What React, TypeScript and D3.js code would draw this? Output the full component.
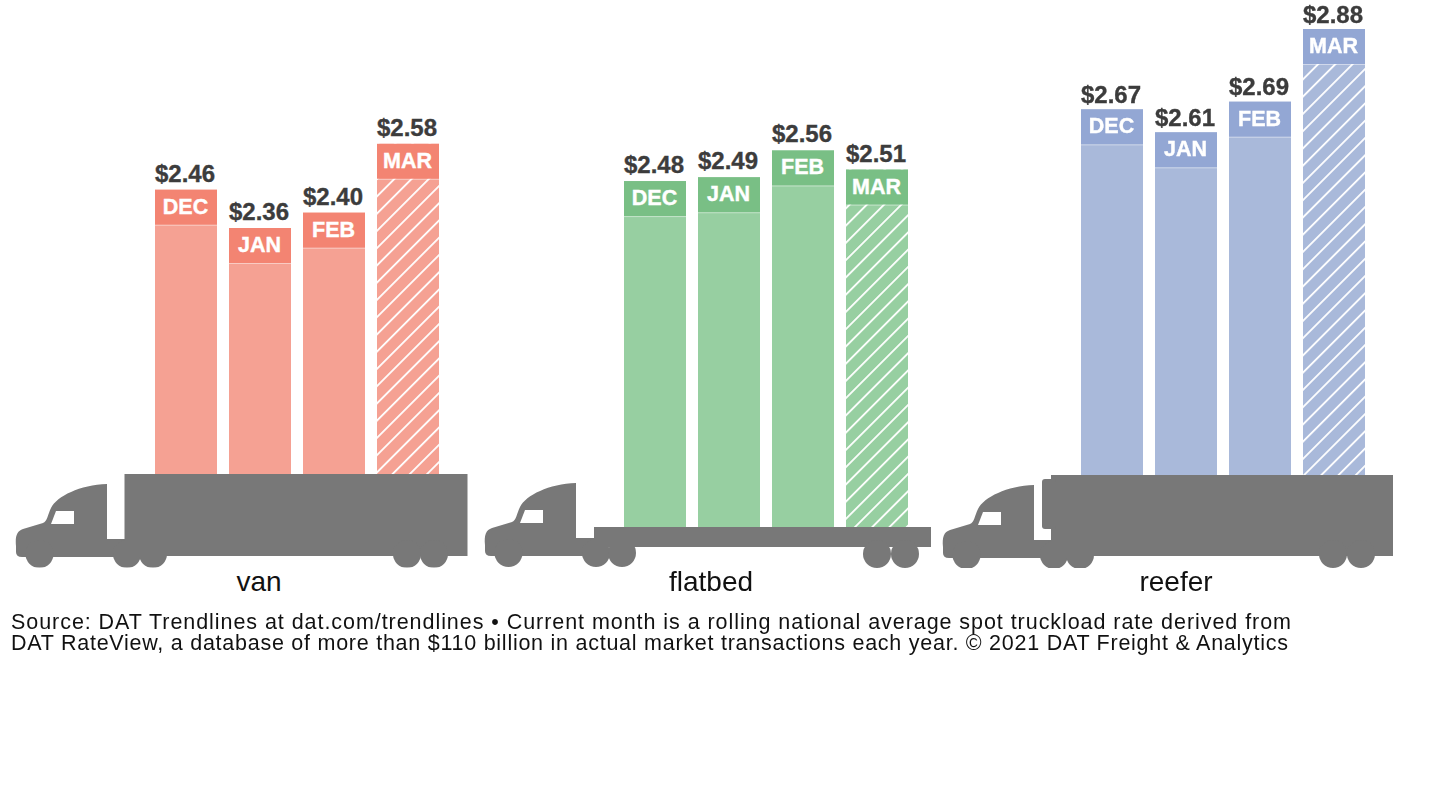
import React, { useRef, useEffect } from 'react';
import * as d3 from 'd3';

const WIDTH = 1432;
const HEIGHT = 805;

const MONTHS = ['DEC', 'JAN', 'FEB', 'MAR'];
const VAN_RATES = [2.46, 2.36, 2.4, 2.58];
const FLATBED_RATES = [2.48, 2.49, 2.56, 2.51];
const REEFER_RATES = [2.67, 2.61, 2.69, 2.88];
const SOURCE_LINES = [
  'Source: DAT Trendlines at dat.com/trendlines • Current month is a rolling national average spot truckload rate derived from',
  'DAT RateView, a database of more than $110 billion in actual market transactions each year. © 2021 DAT Freight & Analytics',
];

const FONT = '"Liberation Sans", Arial, sans-serif';
const TRUCK = '#787878';
const HEADER_H = 35;
const HATCH = 12.2;

const GROUPS = [
  { id: 'van', label: 'van', labelX: 259, rates: VAN_RATES, x0: 155, base: 474, shift: 0, gap: 8, body: '#F5A193', head: '#F38472', dx: 0, dy: 0, phase: 572 },
  { id: 'flatbed', label: 'flatbed', labelX: 711, rates: FLATBED_RATES, x0: 624, base: 527, shift: -1, gap: 8, body: '#97CFA1', head: '#79BF85', dx: 469, dy: -1, phase: 1329 },
  { id: 'reefer', label: 'reefer', labelX: 1176, rates: REEFER_RATES, x0: 1081, base: 475, shift: 0, gap: 6.5, body: '#A9B9DA', head: '#93A7D4', dx: 927, dy: 1, phase: 1381 },
];

// cab silhouette, traced from the van truck, shifted per truck
const CAB =
  'M16 546 C15 536 17 531 23 529 L43 523 C47 522 48 514 51 508 C57 496 80 485 107 484 ' +
  'L107 539 L128 539 L128 557 L22 557 Q16 557 16 552 Z';
const WINDOW = 'M56 511 L74 511 L74 524 L51 524 Z';

const wheel = (g: any, x: number, y = 554, r = 14) =>
  g.append('circle').attr('cx', x).attr('cy', y).attr('r', r).attr('fill', TRUCK);

export default function App() {
  const svgRef = useRef<SVGSVGElement>(null);

  useEffect(() => {
    if (!svgRef.current) return;
    const svg = d3.select(svgRef.current);
    svg.selectAll('*').remove();

    const defs = svg.append('defs');
    defs
      .append('clipPath')
      .attr('id', 'wheel-clip')
      .append('rect')
      .attr('x', 0)
      .attr('y', 0)
      .attr('width', WIDTH)
      .attr('height', 567.5);
    // the truck art is a slightly soft bitmap in the original
    defs
      .append('filter')
      .attr('id', 'soft')
      .append('feGaussianBlur')
      .attr('stdDeviation', 0.5);

    GROUPS.forEach((grp) => {
      const pat = defs
        .append('pattern')
        .attr('id', `hatch-${grp.id}`)
        .attr('patternUnits', 'userSpaceOnUse')
        .attr('width', HATCH)
        .attr('height', HATCH)
        .attr('patternTransform', `translate(${grp.phase}, 0) rotate(45)`);
      pat.append('rect').attr('width', HATCH).attr('height', HATCH).attr('fill', grp.body);
      pat.append('rect').attr('width', 1.8).attr('height', HATCH).attr('fill', '#fff');
    });

    // same rate scale for all three trucks
    const y = d3.scaleLinear().domain([2.36, 2.88]).range([228, 29]);

    GROUPS.forEach((grp) => {
      const x = d3.scaleBand<string>().domain(MONTHS).range([grp.x0, grp.x0 + 284]).paddingInner(12 / 74);
      const g = svg.append('g');

      MONTHS.forEach((m, i) => {
        const v = grp.rates[i];
        const top = y(v) + grp.shift;
        const bx = x(m) as number;
        const w = x.bandwidth();
        g.append('rect')
          .attr('x', bx)
          .attr('y', top)
          .attr('width', w)
          .attr('height', grp.base - top)
          .attr('fill', m === 'MAR' ? `url(#hatch-${grp.id})` : grp.body);
        g.append('rect').attr('x', bx).attr('y', top).attr('width', w).attr('height', HEADER_H).attr('fill', grp.head);
        g.append('rect')
          .attr('x', bx)
          .attr('y', top + HEADER_H)
          .attr('width', w)
          .attr('height', 1)
          .attr('fill', '#fff')
          .attr('opacity', 0.45);
        g.append('text')
          .attr('x', bx + w / 2 - 0.5)
          .attr('y', top + 24)
          .attr('text-anchor', 'middle')
          .attr('fill', '#fff')
          .attr('stroke', '#fff')
          .attr('stroke-width', 0.4)
          .attr('font-size', 21.5)
          .attr('font-weight', 'bold')
          .attr('font-family', FONT)
          .text(m);
        g.append('text')
          .attr('x', bx + w / 2 - 1)
          .attr('y', top - grp.gap)
          .attr('text-anchor', 'middle')
          .attr('fill', '#3c3c3c')
          .attr('stroke', '#3c3c3c')
          .attr('stroke-width', 0.35)
          .attr('font-size', 24)
          .attr('font-weight', 'bold')
          .attr('font-family', FONT)
          .text(d3.format('$.2f')(v));
      });

      // truck
      const t = svg.append('g').attr('clip-path', 'url(#wheel-clip)').append('g').attr('filter', 'url(#soft)');
      const cab = t.append('g').attr('transform', `translate(${grp.dx}, ${grp.dy})`);
      cab.append('path').attr('d', CAB).attr('fill', TRUCK);
      wheel(cab, 39.5);
      wheel(cab, 127);
      wheel(cab, 153);
      cab.append('path').attr('d', WINDOW).attr('fill', '#fff');

      if (grp.id === 'van') {
        t.append('rect').attr('x', 124.5).attr('y', 474).attr('width', 343).attr('height', 82).attr('fill', TRUCK);
        wheel(t, 407);
        wheel(t, 434);
      } else if (grp.id === 'flatbed') {
        t.append('rect').attr('x', 594).attr('y', 527).attr('width', 337).attr('height', 20).attr('fill', TRUCK);
        wheel(t, 877);
        wheel(t, 905);
      } else {
        t.append('rect').attr('x', 1051).attr('y', 475).attr('width', 342).attr('height', 81).attr('fill', TRUCK);
        t.append('rect').attr('x', 1042).attr('y', 479).attr('width', 14).attr('height', 50).attr('rx', 3).attr('fill', TRUCK);
        wheel(t, 1333);
        wheel(t, 1361);
      }

      svg
        .append('text')
        .attr('x', grp.labelX)
        .attr('y', 591)
        .attr('text-anchor', 'middle')
        .attr('fill', '#111')
        .attr('font-size', 28)
        .attr('font-family', FONT)
        .text(grp.label);
    });

    SOURCE_LINES.forEach((line, i) => {
      svg
        .append('text')
        .attr('x', 11)
        .attr('y', 629 + i * 21)
        .attr('fill', '#111')
        .attr('font-size', 21.5)
        .attr('font-family', FONT)
        .attr('textLength', i === 0 ? 1280 : 1277)
        .attr('lengthAdjust', 'spacing')
        .text(line);
    });
  }, []);

  return (
    <svg
      ref={svgRef}
      width={WIDTH}
      height={HEIGHT}
      viewBox={`0 0 ${WIDTH} ${HEIGHT}`}
      style={{ position: 'absolute', left: 0, top: 0, background: '#fff' }}
    />
  );
}
